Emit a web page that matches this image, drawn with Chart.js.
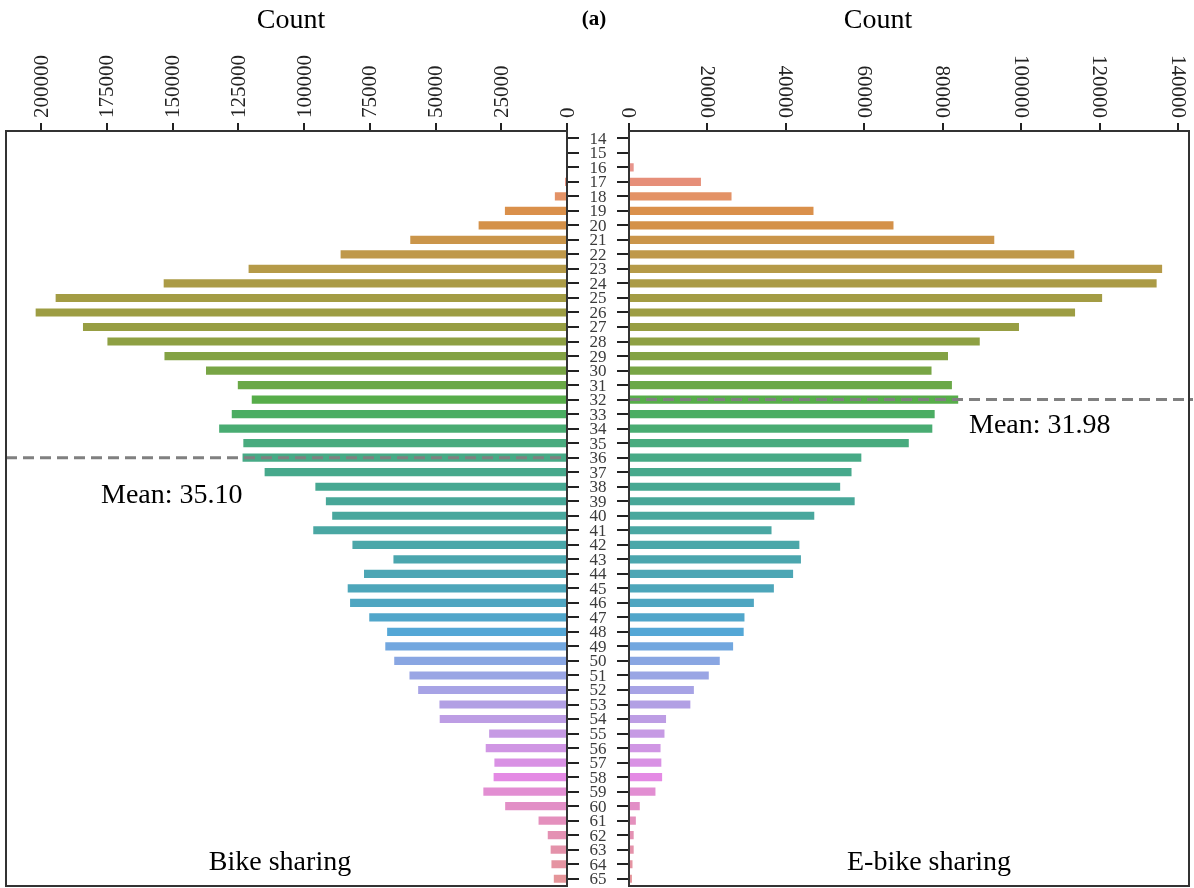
<!DOCTYPE html>
<html>
<head>
<meta charset="utf-8">
<script src="https://cdn.jsdelivr.net/npm/chart.js@4.4.1/dist/chart.umd.min.js"></script>
<style>
  html, body { margin: 0; padding: 0; background: #ffffff; }
  #wrap { position: relative; width: 1194px; height: 888px; overflow: hidden; }
  #wrap canvas { position: absolute; left: 0; top: 0; }
</style>
</head>
<body>
<div id="wrap">
  <canvas id="bikeChart" width="1194" height="888"></canvas>
  <canvas id="ebikeChart" width="1194" height="888"></canvas>
</div>
<script>
// Rider age (years) shared by both panels
const ages = ['14','15','16','17','18','19','20','21','22','23','24','25','26','27','28','29','30',
  '31','32','33','34','35','36','37','38','39','40','41','42','43','44','45','46','47','48','49','50',
  '51','52','53','54','55','56','57','58','59','60','61','62','63','64','65'];

// Trip counts per age, bike sharing
const bikeCounts = [0, 0, 0, 1100, 5000, 24000, 34000, 60000, 86500, 121500, 153800, 194900, 202500,
  184500, 175200, 153500, 137700, 125600, 120300, 127900, 132700, 123500, 123800, 115400, 96100,
  92100, 89700, 96900, 82000, 66400, 77600, 83800, 82900, 75600, 68800, 69500, 66100, 60300, 57000,
  48900, 48800, 30000, 31300, 28000, 28300, 32200, 23900, 11200, 7700, 6600, 6300, 5400];

// Trip counts per age, e-bike sharing
const ebikeCounts = [0, 0, 1450, 18600, 26400, 47300, 67700, 93400, 113800, 136200, 134800, 120900,
  114000, 99700, 89700, 81600, 77400, 82600, 84200, 78200, 77600, 71600, 59500, 57000, 54100, 57800,
  47500, 36600, 43700, 44100, 42100, 37200, 32100, 29700, 29500, 26800, 23400, 20600, 16800, 15900,
  9700, 9300, 8300, 8500, 8700, 7000, 3000, 2000, 1450, 1450, 1150, 1000];

// Count axis ticks
const bikeTicks = [0, 25000, 50000, 75000, 100000, 125000, 150000, 175000, 200000];
const ebikeTicks = [0, 20000, 40000, 60000, 80000, 100000, 120000, 140000];

// Mean ages and the rows where the mean markers sit
const bikeMean = '35.10';
const ebikeMean = '31.98';
const bikeMeanRow = '36';
const ebikeMeanRow = '32';

// One colour per age row, running round the hue circle
const barColors = ['#e8929a','#e8938f','#e8958c','#e68f79','#e39266','#da904b','#d49149','#ca954a',
  '#bf984a','#b59a48','#ab9b46','#a39c44','#9d9d43','#979e43','#8ea043','#83a244','#78a545','#6aa847',
  '#57ad4a','#4bad62','#49ac72','#48ab7e','#47aa86','#47a98c','#47a892','#48a798','#49a79d','#4aa7a3',
  '#4ba7a9','#4ba6ae','#4ca6b4','#4da6ba','#4fa6c1','#51a6ca','#54a7d6','#72a7df','#89a6e2','#9aa5e4',
  '#a7a3e5','#b2a0e4','#bd9de4','#c69ae4','#d096e4','#d991e4','#e48ae4','#e28ed2','#e28fc6','#e490bd',
  '#e491b3','#e492aa','#e594a2','#e5959a'];

const SERIF = '"Liberation Serif", "Times New Roman", serif';
const INK = '#222222';
const FRAME = '#333333';

function drawFrame(chart) {
  const { ctx, chartArea: a } = chart;
  ctx.save();
  ctx.strokeStyle = FRAME;
  ctx.lineWidth = 2;
  ctx.strokeRect(a.left, a.top, a.right - a.left, a.bottom - a.top);
  ctx.restore();
}

function drawMeanLine(chart, row, overhang) {
  const { ctx, chartArea: a } = chart;
  const y = chart.scales.y.getPixelForValue(ages.indexOf(row));
  ctx.save();
  ctx.strokeStyle = '#808080';
  ctx.lineWidth = 3;
  ctx.setLineDash([11, 6]);
  ctx.beginPath();
  ctx.moveTo(a.left, y);
  ctx.lineTo(a.right + overhang, y);
  ctx.stroke();
  ctx.restore();
}

// Rotated count labels above the top axis; dir -1 reads upward, +1 reads downward
function drawCountTicks(chart, dir) {
  const { ctx } = chart;
  const xs = chart.scales.x;
  ctx.save();
  ctx.font = '21px ' + SERIF;
  ctx.fillStyle = INK;
  ctx.textBaseline = 'middle';
  xs.ticks.forEach(t => {
    const x = xs.getPixelForValue(t.value);
    ctx.save();
    ctx.translate(x, xs.bottom - 13);
    ctx.rotate(dir * Math.PI / 2);
    ctx.textAlign = dir < 0 ? 'left' : 'right';
    ctx.fillText(String(t.value), 0, 1);
    ctx.restore();
  });
  ctx.restore();
}

function text(ctx, str, x, y, font, align) {
  ctx.save();
  ctx.font = font;
  ctx.fillStyle = '#000000';
  ctx.textAlign = align || 'center';
  ctx.textBaseline = 'alphabetic';
  ctx.fillText(str, x, y);
  ctx.restore();
}

const bikeDecor = {
  id: 'bikeDecor',
  afterDatasetsDraw(chart) {
    drawMeanLine(chart, bikeMeanRow, 0);
  },
  afterDraw(chart) {
    drawFrame(chart);
    drawCountTicks(chart, -1);
    const { ctx } = chart;
    const ys = chart.scales.y;
    // age labels in the gap between the two panels
    ctx.save();
    ctx.font = '17px ' + SERIF;
    ctx.fillStyle = '#3a3a3a';
    ctx.textAlign = 'center';
    ctx.textBaseline = 'middle';
    ages.forEach((a, i) => ctx.fillText(a, 598, ys.getPixelForValue(i) + 1));
    ctx.restore();
    text(ctx, 'Count', 291, 28, '28px ' + SERIF);
    text(ctx, 'Mean: ' + bikeMean, 101, 503, '28px ' + SERIF, 'left');
    text(ctx, 'Bike sharing', 280, 870, '28px ' + SERIF);
  }
};

const ebikeDecor = {
  id: 'ebikeDecor',
  afterDatasetsDraw(chart) {
    drawMeanLine(chart, ebikeMeanRow, 4);
  },
  afterDraw(chart) {
    drawFrame(chart);
    drawCountTicks(chart, 1);
    const { ctx } = chart;
    text(ctx, 'Count', 878, 28, '28px ' + SERIF);
    text(ctx, '(a)', 594, 25, 'bold 21px ' + SERIF);
    text(ctx, 'Mean: ' + ebikeMean, 969, 433, '28px ' + SERIF, 'left');
    text(ctx, 'E-bike sharing', 929, 870, '28px ' + SERIF);
  }
};

function axisGrid(len) {
  return { drawOnChartArea: false, drawTicks: true, tickLength: len, color: INK, lineWidth: 2, offset: false };
}

function makeChart(id, counts, ticks, max, reverse, yPos, padding, yWidth, plugin) {
  return new Chart(document.getElementById(id), {
    type: 'bar',
    data: {
      labels: ages,
      datasets: [{
        data: counts,
        backgroundColor: barColors,
        borderColor: 'rgba(255,255,255,0.35)',
        borderWidth: 1,
        barPercentage: 0.7,
        categoryPercentage: 1
      }]
    },
    options: {
      indexAxis: 'y',
      responsive: false,
      animation: false,
      events: [],
      layout: { padding },
      plugins: { legend: { display: false }, tooltip: { enabled: false } },
      scales: {
        x: {
          type: 'linear',
          position: 'top',
          reverse,
          min: 0,
          max,
          afterBuildTicks: s => { s.ticks = ticks.map(v => ({ value: v })); },
          ticks: { display: false },
          grid: axisGrid(8),
          border: { display: true, color: FRAME, width: 2 },
          afterFit: s => { s.height = 131; }
        },
        y: {
          type: 'category',
          position: yPos,
          ticks: { display: false },
          grid: axisGrid(12),
          border: { display: true, color: FRAME, width: 2 },
          afterFit: s => { s.width = yWidth; }
        }
      }
    },
    plugins: [plugin]
  });
}

makeChart('bikeChart', bikeCounts, bikeTicks, 213400, true, 'right',
  { left: 6, right: 597, top: 0, bottom: 2 }, 30, bikeDecor);
makeChart('ebikeChart', ebikeCounts, ebikeTicks, 142800, false, 'left',
  { left: 597, right: 5, top: 0, bottom: 2 }, 32, ebikeDecor);
</script>
</body>
</html>
